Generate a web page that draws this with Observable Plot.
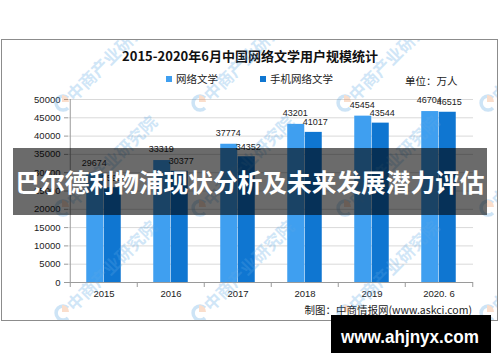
<!DOCTYPE html>
<html><head><meta charset="utf-8">
<script src="https://cdn.jsdelivr.net/npm/d3@7"></script>
<script src="https://cdn.jsdelivr.net/npm/@observablehq/plot@0.6"></script>
<style>
html,body{margin:0;padding:0;background:#fff;}
#root{position:relative;width:500px;height:362px;overflow:hidden;background:#fff;font-family:"Noto Sans CJK SC","Liberation Sans",sans-serif;color:#1a1a1a;}
.abs{position:absolute;white-space:nowrap;}
</style></head><body><div id="root"></div>
<script>
// ---- data ----
const title = "2015-2020年6月中国网络文学用户规模统计";
const years = ["2015", "2016", "2017", "2018", "2019", "2020. 6"];
const seriesNames = ["网络文学", "手机网络文学"];
const webLit = [29674, 33319, 37774, 43201, 45454, 46704];
const mobileLit = [25908, 30377, 34352, 41017, 43544, 46515];
const yTicks = [0, 5000, 10000, 15000, 20000, 25000, 30000, 35000, 40000, 45000, 50000];
const unitText = "单位：万人";
const sourceText = "制图：中商情报网(www.askci.com)";
const bannerText = "巴尔德利物浦现状分析及未来发展潜力评估";
const siteText = "www.ahjnyx.com";
const watermarkText = "中商产业研究院";

const colors = ["#3f9ff0", "#0f76d1"];
const root = document.getElementById("root");

const webRows = years.map((y, i) => ({year: y, series: seriesNames[0], value: webLit[i]}));
const mobRows = years.map((y, i) => ({year: y, series: seriesNames[1], value: mobileLit[i]}));

// frame
const frame = document.createElement("div");
frame.className = "abs";
Object.assign(frame.style, {left: "1px", top: "39px", width: "497px", height: "282px", border: "1px solid #8c8c8c", boxSizing: "border-box"});
root.appendChild(frame);

function addText(txt, css) {
  const d = document.createElement("div");
  d.className = "abs";
  d.textContent = txt;
  Object.assign(d.style, css);
  root.appendChild(d);
  return d;
}
addText(title, {left: "0px", width: "500px", textAlign: "center", top: "47px", fontSize: "13px", fontWeight: "bold", lineHeight: "18px", color: "#111"});

// legend
seriesNames.forEach((s, i) => {
  const x0 = i === 0 ? 166 : 260;
  const sw = document.createElement("div");
  sw.className = "abs";
  Object.assign(sw.style, {left: x0 + "px", top: "76px", width: "6px", height: "6px", background: colors[i]});
  root.appendChild(sw);
  addText(s, {left: (x0 + 10) + "px", top: "71px", fontSize: "10.5px", lineHeight: "16px", color: "#222"});
});
addText(unitText, {left: "405px", top: "73px", fontSize: "10.5px", lineHeight: "16px", color: "#222"});

// chart
const band = 405 / 6;
const bw = 17.5;
const side = band / 2 - bw; // 16.25
const chart = Plot.plot({
  width: 500,
  height: 217,
  marginLeft: 68,
  marginRight: 27,
  marginTop: 11,
  marginBottom: 23,
  style: {fontFamily: "'Liberation Sans', Arial, sans-serif", fontSize: "9.5px", color: "#222", background: "transparent", overflow: "visible"},
  x: {domain: years, padding: 0},
  y: {domain: [0, 50000]},
  marks: [
    Plot.gridY(yTicks, {stroke: "#d9d9d9", strokeOpacity: 1}),
    Plot.barY(webRows, {x: "year", y: "value", fill: colors[0], insetLeft: side, insetRight: side + bw}),
    Plot.barY(mobRows, {x: "year", y: "value", fill: colors[1], insetLeft: side + bw, insetRight: side}),
    Plot.ruleY([0], {stroke: "#9a9a9a"}),
    Plot.ruleX([years[0]], {dx: -band / 2, y1: () => 0, y2: () => 50000, stroke: "#9a9a9a"}),
    Plot.ruleX(years, {dx: -band / 2, y1: () => 0, y2: () => 0, insetBottom: -5, stroke: "#9a9a9a"}),
    Plot.ruleX([years[years.length - 1]], {dx: band / 2, y1: () => 0, y2: () => 0, insetBottom: -5, stroke: "#9a9a9a"}),
    Plot.axisY({ticks: yTicks, tickSize: 4, tickPadding: 4, tickFormat: d => String(d), stroke: "#9a9a9a", fill: "#222", label: null}),
    Plot.axisX({tickSize: 0, tickPadding: 8, fill: "#222", label: null}),
    Plot.text(webRows, {x: "year", y: "value", text: d => String(d.value), dx: -bw / 2 - 1, dy: -11, fill: "#222", fontSize: 9}),
    Plot.text(mobRows, {x: "year", y: "value", text: d => String(d.value), dx: bw / 2 + 1.5, dy: -10, fill: "#222", fontSize: 9})
  ]
});
chart.style.position = "absolute";
chart.style.left = "0px";
chart.style.top = "88px";
root.appendChild(chart);

addText(sourceText, {right: "28px", top: "302px", fontSize: "10.5px", lineHeight: "16px", color: "#222"});

// watermark layer
const ns = "http://www.w3.org/2000/svg";
const wm = document.createElementNS(ns, "svg");
wm.setAttribute("width", 495);
wm.setAttribute("height", 280);
Object.assign(wm.style, {position: "absolute", left: "2px", top: "40px", overflow: "hidden", pointerEvents: "none"});
const cols = [63, 200, 345, 488];
const rows = [103, 208, 313];
rows.forEach(ry => cols.forEach(cx => {
  const g = document.createElementNS(ns, "g");
  g.setAttribute("transform", `translate(${cx - 2},${ry - 40})`);
  g.setAttribute("opacity", "0.28");
  const arc = document.createElementNS(ns, "path");
  arc.setAttribute("d", "M5,-5 A7,7 0 1 0 5,5");
  arc.setAttribute("fill", "none");
  arc.setAttribute("stroke", "#4f9fe0");
  arc.setAttribute("stroke-width", "3.5");
  g.appendChild(arc);
  const or = document.createElementNS(ns, "path");
  or.setAttribute("d", "M-1,-1 L-1,-8 A7,7 0 0 1 6,-1 Z");
  or.setAttribute("fill", "#f08a4b");
  g.appendChild(or);
  const t = document.createElementNS(ns, "text");
  t.textContent = watermarkText;
  t.setAttribute("transform", "translate(6,-6) rotate(-45)");
  t.setAttribute("font-size", "17");
  t.setAttribute("font-weight", "bold");
  t.setAttribute("fill", "#5aa7e6");
  t.setAttribute("dominant-baseline", "central");
  t.setAttribute("font-family", "Noto Sans CJK SC");
  g.appendChild(t);
  wm.appendChild(g);
}));
root.appendChild(wm);

// banner overlay
const banner = document.createElement("div");
banner.className = "abs";
Object.assign(banner.style, {left: "13px", top: "148px", width: "474px", height: "67px", background: "rgba(0,0,0,0.58)"});
root.appendChild(banner);
addText(bannerText, {left: "0px", width: "500px", textAlign: "center", top: "148px", height: "67px", lineHeight: "67px", fontSize: "24.7px", fontWeight: "bold", color: "#fff"});

// site box
const box = document.createElement("div");
box.className = "abs";
Object.assign(box.style, {left: "331px", top: "315px", width: "160px", height: "38px", background: "#000"});
root.appendChild(box);
const sv = document.createElementNS(ns, "svg");
sv.setAttribute("width", 160); sv.setAttribute("height", 38);
Object.assign(sv.style, {position: "absolute", left: "331px", top: "315px"});
const st = document.createElementNS(ns, "text");
st.textContent = siteText;
st.setAttribute("x", 10); st.setAttribute("y", 28);
st.setAttribute("textLength", 138); st.setAttribute("lengthAdjust", "spacingAndGlyphs");
st.setAttribute("font-family", "Liberation Sans, Arial, sans-serif");
st.setAttribute("font-weight", "bold"); st.setAttribute("font-size", "18.5");
st.setAttribute("fill", "#fff");
sv.appendChild(st);
root.appendChild(sv);
</script></body></html>
